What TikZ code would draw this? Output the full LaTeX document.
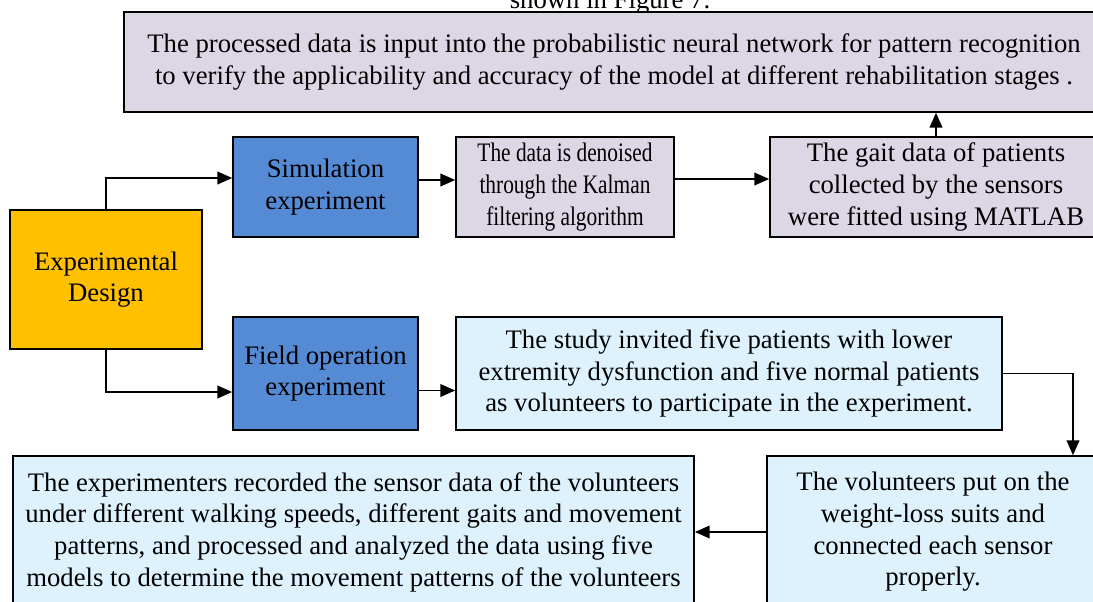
\documentclass[tikz,border=0pt]{standalone}
\usepackage{fontspec}
\setmainfont{Liberation Serif}
\newfontfamily\narrowserif[FakeStretch=0.8]{Liberation Serif}
\usetikzlibrary{arrows.meta,positioning,calc}

\definecolor{designorange}{RGB}{255,192,0}
\definecolor{expblue}{RGB}{85,138,213}
\definecolor{simlav}{RGB}{220,214,229}
\definecolor{fieldsky}{RGB}{221,242,253}

\begin{document}
\begin{tikzpicture}[
    x=0.025cm, y=-0.025cm,
    font=\fontsize{19}{22.5}\selectfont,
    box/.style={draw=black, line width=1.1pt, align=center, inner sep=2pt},
    design/.style={box, fill=designorange, minimum width=4.8cm, minimum height=3.475cm},
    exper/.style={box, fill=expblue, minimum width=4.625cm},
    simbox/.style={box, fill=simlav, minimum height=2.5cm},
    fieldbox/.style={box, fill=fieldsky},
    flow/.style={-{Triangle[length=10.5pt,width=9pt]}, line width=1.1pt}
  ]
    \clip (0,0) rectangle (1093,601);
    \fill[white] (0,0) rectangle (1093,601);

    \node[anchor=base] (cap) at (610,8) {shown in Figure 7.};
    \node[simbox, minimum width=24.5cm] (proc) at (614,62)
      {The processed data is input into the probabilistic neural network for pattern recognition\\
       to verify the applicability and accuracy of the model at different rehabilitation stages .};

    \node[design] (design) at (106,279.5) {Experimental\\Design};
    \node[exper, minimum height=2.5cm] (sim) at (325.5,187) {Simulation\\experiment};
    \node[exper, minimum height=2.825cm] (field) at (325.5,373.5) {Field operation\\experiment};

    \node[simbox, minimum width=5.45cm, font=\fontsize{19}{22.5}\narrowserif] (kalman) at (565,187)
      {The data is denoised\\through the Kalman\\filtering algorithm};
    \node[simbox, minimum width=8.3cm] (matlab) at (936,187)
      {The gait data of patients\\collected by the sensors\\were fitted using MATLAB};

    \node[fieldbox, minimum width=13.65cm, minimum height=2.825cm] (study) at (729,373.5)
      {The study invited five patients with lower\\extremity dysfunction and five normal patients\\as volunteers to participate in the experiment.};
    \node[fieldbox, minimum width=8.3cm, minimum height=3.8cm] (vol) at (933,532)
      {The volunteers put on the\\weight-loss suits and\\connected each sensor\\properly.};
    \node[fieldbox, minimum width=17.025cm, minimum height=3.8cm] (record) at (353.5,532)
      {The experimenters recorded the sensor data of the volunteers\\
       under different walking speeds, different gaits and movement\\
       patterns, and processed and analyzed the data using five\\
       models to determine the movement patterns of the volunteers};

    % connectors
    \draw[flow] (design.north) |- ($(sim.west)+(0,-9)$);
    \draw[flow] (design.south) |- ($(field.west)+(0,18.5)$);
    \draw[flow] ($(sim.east)+(0,-7)$) -- ($(kalman.west)+(0,-7)$);
    \draw[flow] ($(kalman.east)+(0,-8)$) -- ($(matlab.west)+(0,-8)$);
    \draw[flow] (matlab.north) -- (matlab.north |- proc.south);
    \draw[flow] ($(field.east)+(0,17)$) -- ($(study.west)+(0,17)$);
    \draw[flow] (study.east) -| ($(vol.north)+(140,0)$);
    \draw[flow] (vol.west) -- (record.east);
  \end{tikzpicture}
\end{document}
